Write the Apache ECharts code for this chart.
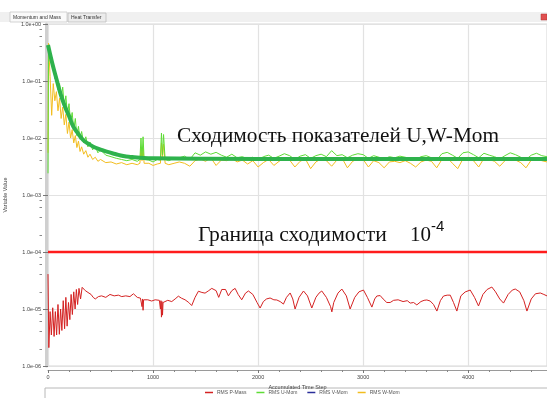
<!DOCTYPE html>
<html><head><meta charset="utf-8">
<script src="https://cdn.jsdelivr.net/npm/echarts@6/dist/echarts.min.js"></script>
<style>html,body{margin:0;padding:0;background:#fff}#c{width:547px;height:398px}</style>
</head><body><div id="c"></div>
<script>
// ---- data ----
const xTicks = [0, 1000, 2000, 3000, 4000];
const yMajor = [1e-6, 1e-5, 1e-4, 1e-3, 1e-2, 1e-1, 1];
const yMinor = [2e-6,4e-6,6e-6,8e-6,2e-5,4e-5,6e-5,8e-5,2e-4,4e-4,6e-4,8e-4,2e-3,4e-3,6e-3,8e-3,2e-2,4e-2,6e-2,8e-2,0.2,0.4,0.6,0.8];
const threshold = 1e-4;
const thresholdSteps = [0, 4750];
const seriesNames = ['RMS P-Mass', 'RMS U-Mom', 'RMS V-Mom', 'RMS W-Mom'];

const rmsP = [[0,4.1e-5],[8,2.1e-6],[20,9e-6],[32,3.5e-6],[45,1.05e-5],[58,3.3e-6],[70,9e-6],[82,3.5e-6],[95,1.2e-5],[108,3.6e-6],[120,1.0e-5],[132,4.2e-6],[145,1.4e-5],[158,4.5e-6],[170,1.6e-5],[182,5e-6],[195,1.3e-5],[208,6.5e-6],[220,1.8e-5],[232,8e-6],[245,2.0e-5],[258,1.0e-5],[270,2.2e-5],[282,1.2e-5],[295,2.3e-5],[310,1.5e-5],[325,2.4e-5],[340,2.5e-5],[355,2.1e-5],[370,2.2e-5],[390,1.9e-5],[410,1.8e-5],[430,1.6e-5],[450,1.5e-5],[480,1.65e-5],[510,1.7e-5],[550,1.6e-5],[590,1.8e-5],[630,1.7e-5],[670,1.75e-5],[702,1.65e-5],[740,1.7e-5],[780,1.65e-5],[813,1.85e-5],[850,1.6e-5],[880,1.55e-5],[895,1.1e-5],[900,1.5e-5],[905,9.5e-6],[910,1.45e-5],[924,1.5e-5],[950,1.45e-5],[987,1.38e-5],[1020,1.45e-5],[1060,1.42e-5],[1070,1.0e-5],[1075,1.4e-5],[1080,7.2e-6],[1085,1.35e-5],[1090,7.8e-6],[1095,1.3e-5],[1110,1.38e-5],[1140,1.42e-5],[1178,1.35e-5],[1210,1.5e-5],[1241,1.68e-5],[1270,1.55e-5],[1305,1.45e-5],[1340,1.3e-5],[1368,1.15e-5],[1400,1.6e-5],[1432,2.05e-5],[1465,1.95e-5],[1495,1.9e-5],[1530,2.1e-5],[1559,2.3e-5],[1600,2.1e-5],[1625,1.6e-5],[1654,2.2e-5],[1690,2.2e-5],[1717,1.7e-5],[1750,2.1e-5],[1781,2.3e-5],[1810,1.8e-5],[1844,1.45e-5],[1880,1.9e-5],[1908,2.07e-5],[1950,1.8e-5],[1990,1.3e-5],[2019,1.04e-5],[2050,1.35e-5],[2080,1.5e-5],[2114,1.56e-5],[2150,1.45e-5],[2178,1.44e-5],[2210,1.35e-5],[2241,1.22e-5],[2270,1.6e-5],[2305,1.91e-5],[2330,1.5e-5],[2352,1.0e-5],[2390,1.6e-5],[2432,2.07e-5],[2470,1.7e-5],[2511,1.04e-5],[2550,1.6e-5],[2580,1.9e-5],[2606,2.07e-5],[2650,1.6e-5],[2690,1.1e-5],[2702,8.9e-6],[2720,1.3e-5],[2760,1.9e-5],[2797,2.24e-5],[2840,1.7e-5],[2876,1.0e-5],[2920,1.6e-5],[2960,2.0e-5],[3003,2.15e-5],[3040,1.6e-5],[3083,1.08e-5],[3110,1.5e-5],[3130,1.69e-5],[3162,1.72e-5],[3190,1.5e-5],[3225,1.3e-5],[3257,1.3e-5],[3290,1.42e-5],[3333,1.45e-5],[3380,1.35e-5],[3420,1.4e-5],[3448,1.27e-5],[3480,1.3e-5],[3511,1.18e-5],[3550,1.35e-5],[3580,1.42e-5],[3606,1.44e-5],[3638,1.38e-5],[3670,1.2e-5],[3702,9.2e-6],[3735,1.4e-5],[3765,1.69e-5],[3800,1.75e-5],[3829,1.75e-5],[3860,1.3e-5],[3892,9.2e-6],[3930,1.7e-5],[3971,1.99e-5],[4019,2.15e-5],[4060,1.6e-5],[4098,1.13e-5],[4140,1.8e-5],[4180,2.2e-5],[4225,2.43e-5],[4260,2.0e-5],[4300,1.5e-5],[4336,1.27e-5],[4380,1.8e-5],[4420,2.15e-5],[4448,2.24e-5],[4490,2.0e-5],[4530,1.4e-5],[4559,9.2e-6],[4600,1.5e-5],[4640,1.85e-5],[4686,1.91e-5],[4720,1.8e-5],[4752,1.69e-5]];

const rmsU = [[0,0.0024],[5,0.42],[20,0.30],[35,0.22],[50,0.19],[65,0.11],[80,0.13],[95,0.07],[110,0.09],[125,0.05],[140,0.078],[155,0.035],[170,0.055],[185,0.026],[200,0.040],[215,0.019],[230,0.028],[245,0.014],[260,0.022],[275,0.011],[290,0.016],[305,0.0095],[320,0.013],[340,0.0082],[360,0.0105],[380,0.0070],[400,0.0085],[425,0.0062],[450,0.0072],[475,0.0055],[500,0.0062],[550,0.0050],[600,0.0047],[650,0.0044],[700,0.0042],[750,0.0040],[800,0.0042],[850,0.0039],[875,0.0042],[885,0.0100],[895,0.0045],[905,0.0105],[915,0.0042],[930,0.0039],[960,0.0041],[1000,0.0038],[1040,0.0042],[1070,0.0041],[1080,0.0122],[1090,0.0050],[1100,0.0115],[1115,0.0042],[1150,0.0040],[1200,0.0044],
[1250,0.0045],[1300,0.0048],[1350,0.0042],[1400,0.0055],[1450,0.0050],[1500,0.0057],[1550,0.0052],[1600,0.0056],[1650,0.0050],[1700,0.0046],[1750,0.0052],[1800,0.0045],[1850,0.0047],[1900,0.0043],[1950,0.0046],[2000,0.0041],[2050,0.0047],[2100,0.0050],[2150,0.0044],[2200,0.0048],[2250,0.0053],[2300,0.0049],[2350,0.0042],[2400,0.0048],[2450,0.0051],[2500,0.0044],[2550,0.0049],[2600,0.0052],[2650,0.0047],[2700,0.0060],[2750,0.0049],[2800,0.0051],[2850,0.0045],[2900,0.0050],[2950,0.0053],[3000,0.0051],[3050,0.0044],[3100,0.0049],[3150,0.0046],[3200,0.0043],[3250,0.0047],[3300,0.0045],[3350,0.0048],[3400,0.0046],[3450,0.0044],[3500,0.0042],[3550,0.0047],[3600,0.0049],[3650,0.0045],[3700,0.0041],[3750,0.0053],[3800,0.0056],[3850,0.0050],[3900,0.0044],[3950,0.0055],[4000,0.0057],[4050,0.0051],[4100,0.0045],[4150,0.0054],[4200,0.0050],[4250,0.0047],[4300,0.0043],[4350,0.0049],[4400,0.0055],[4450,0.0051],[4500,0.0046],[4550,0.0042],[4600,0.0050],[4650,0.0054],[4700,0.0049],[4750,0.0047]];

const rmsV = [];

const rmsW = [[0,0.0055],[5,0.46],[20,0.12],[35,0.025],[50,0.09],[65,0.045],[80,0.065],[95,0.03],[110,0.05],[125,0.022],[140,0.035],[155,0.017],[170,0.026],[185,0.012],[200,0.019],[215,0.010],[230,0.014],[245,0.0082],[260,0.011],[275,0.0068],[290,0.0088],[305,0.0058],[320,0.0070],[340,0.0052],[360,0.0060],[380,0.0046],[400,0.0052],[425,0.0042],[450,0.0046],[475,0.0039],[500,0.0042],[550,0.0037],[600,0.0038],[650,0.0035],[700,0.0037],[750,0.0034],[800,0.0036],[850,0.0034],[875,0.0036],[885,0.0068],[895,0.0040],[905,0.0066],[915,0.0036],[930,0.0034],[960,0.0036],[1000,0.0033],[1040,0.0035],[1070,0.0036],[1080,0.0082],[1090,0.0045],[1100,0.0078],[1115,0.0036],[1150,0.0034],[1200,0.0036],
[1250,0.0038],[1300,0.0036],[1350,0.0032],[1400,0.0040],[1450,0.0043],[1500,0.0039],[1550,0.0045],[1600,0.0033],[1650,0.0041],[1700,0.0040],[1750,0.0044],[1800,0.0038],[1850,0.0041],[1900,0.0035],[1950,0.0040],[2000,0.0031],[2050,0.0037],[2100,0.0042],[2150,0.0033],[2200,0.0039],[2250,0.0044],[2300,0.0041],[2350,0.0031],[2400,0.0039],[2450,0.0043],[2500,0.0029],[2550,0.0038],[2600,0.0043],[2650,0.0040],[2700,0.0032],[2750,0.0041],[2800,0.0044],[2850,0.0030],[2900,0.0039],[2950,0.0043],[3000,0.0042],[3050,0.0031],[3100,0.0040],[3150,0.0037],[3200,0.0030],[3250,0.0038],[3300,0.0039],[3350,0.0037],[3400,0.0040],[3450,0.0036],[3500,0.0031],[3550,0.0038],[3600,0.0041],[3650,0.0039],[3700,0.0030],[3750,0.0042],[3800,0.0045],[3850,0.0036],[3900,0.0029],[3950,0.0043],[4000,0.0046],[4050,0.0040],[4100,0.0031],[4150,0.0044],[4200,0.0042],[4250,0.0039],[4300,0.0032],[4350,0.0040],[4400,0.0045],[4450,0.0041],[4500,0.0037],[4550,0.0030],[4600,0.0041],[4650,0.0044],[4700,0.0040],[4750,0.0038]];

const trendSteps = [0, 40, 83, 120, 162, 200, 241, 290, 336, 380, 432, 500, 559, 640, 717, 800, 876, 1000, 1500, 2500, 3500, 4750];
const trendValues = [0.428, 0.207, 0.104, 0.059, 0.0354, 0.0243, 0.0158, 0.0117, 0.0092, 0.0080, 0.00704, 0.00628, 0.00575, 0.00524, 0.00483, 0.00464, 0.00451, 0.00440, 0.00432, 0.0043, 0.0043, 0.0043];

const annotation1 = 'Сходимость показателей U,W-Mom';
const annotation2 = 'Граница сходимости';
const tabs = ['Momentum and Mass', 'Heat Transfer'];

// ---- chart ----
function fmtExp(v) {
  const e = Math.round(Math.log10(v));
  const a = Math.abs(e);
  return '1.0e' + (e < 0 ? '-' : '+') + (a < 10 ? '0' : '') + a;
}
const small = { fontFamily: 'Liberation Sans', fontSize: 5.5, color: '#444' };
const chart = echarts.init(document.getElementById('c'), null, { renderer: 'canvas' });
const logBase = { type: 'log', logBase: 10, min: 1e-6, max: 1, gridIndex: 0, position: 'left' };

chart.setOption({
  backgroundColor: '#fff',
  animation: false,
  grid: { left: 48, right: 0, top: 24, bottom: 32, show: true, borderColor: '#d6d6d6', borderWidth: 1, containLabel: false, outerBoundsMode: 'none' },
  legend: {
    data: seriesNames, left: 205, top: 390, padding: 0, itemGap: 10, itemWidth: 8, itemHeight: 1.5, icon: 'rect',
    textStyle: { fontFamily: 'Liberation Sans', fontSize: 5, color: '#555', padding: [0, 0, 0, -1] }
  },
  xAxis: {
    type: 'value', min: 0, max: 4750, interval: 1000, offset: 4,
    name: 'Accumulated Time Step', nameLocation: 'middle', nameGap: 13,
    nameTextStyle: small,
    axisLine: { show: true, lineStyle: { color: '#9a9a9a', width: 1 } },
    axisTick: { show: true, length: 3, inside: false, lineStyle: { color: '#777' } },
    minorTick: { show: true, splitNumber: 5, length: 2, lineStyle: { color: '#888' } },
    axisLabel: Object.assign({ margin: 4, showMaxLabel: false, formatter: v => String(v) }, small),
    splitLine: { show: true, lineStyle: { color: '#e2e2e2', width: 1.2 } }
  },
  yAxis: [
    Object.assign({}, logBase, {
      offset: 6,
      name: 'Variable Value', nameLocation: 'middle', nameGap: 34, nameRotate: 90, nameTextStyle: small,
      axisLine: { show: false },
      axisTick: { show: true, length: 5, lineStyle: { color: '#777' } },
      axisLabel: Object.assign({ margin: 1, formatter: fmtExp }, small),
      splitLine: { show: true, lineStyle: { color: '#e2e2e2', width: 1.2 } }
    }),
    Object.assign({}, logBase, {
      offset: 6,
      axisLine: { show: false },
      axisTick: { show: true, length: 2.5, customValues: yMinor, lineStyle: { color: '#888' } },
      axisLabel: { show: false },
      splitLine: { show: false }
    }),
    Object.assign({}, logBase, {
      offset: 2,
      axisLine: { show: true, lineStyle: { color: '#cfcfcf', width: 3 } },
      axisTick: { show: false }, axisLabel: { show: false }, splitLine: { show: false }
    })
  ],
  series: [
    {
      name: 'threshold', type: 'line', data: thresholdSteps.map(s => [s, threshold]), symbol: 'none', z: 7,
      color: '#ff1c1c', lineStyle: { width: 2.5, color: '#ff1c1c' }
    },
    {
      name: seriesNames[0], type: 'line', data: rmsP, symbol: 'none', z: 5,
      color: '#d42222', lineStyle: { width: 1, color: '#d42222' }
    },
    { name: seriesNames[3], type: 'line', data: rmsW, symbol: 'none', z: 3, color: '#f2bd1f', lineStyle: { width: 1, color: '#f2bd1f' } },
    { name: seriesNames[1], type: 'line', data: rmsU, symbol: 'none', z: 4, color: '#5edc36', lineStyle: { width: 1, color: '#5edc36' } },
    { name: seriesNames[2], type: 'line', data: rmsV, symbol: 'none', z: 4, color: '#2b2f9a', lineStyle: { width: 1, color: '#2b2f9a' } },
    {
      name: 'trend', type: 'line', data: trendSteps.map((s, i) => [s, trendValues[i]]), symbol: 'none', smooth: true, z: 6,
      color: '#2eb24c', lineStyle: { width: 4, color: '#2eb24c' }
    }
  ],
  graphic: [
    { type: 'rect', shape: { x: 0, y: 12, width: 547, height: 10 }, style: { fill: '#f0f0f0' }, silent: true, z: 0 },
    { type: 'rect', shape: { x: 10, y: 12, width: 57, height: 10 }, style: { fill: '#fafafa', stroke: '#c8c8c8', lineWidth: 0.8 }, silent: true },
    { type: 'rect', shape: { x: 68, y: 13, width: 38, height: 9 }, style: { fill: '#ececec', stroke: '#bdbdbd', lineWidth: 0.8 }, silent: true },
    { type: 'text', style: { text: tabs[0], x: 13, y: 17.5, font: '5px "Liberation Sans"', fill: '#333', verticalAlign: 'middle' }, silent: true },
    { type: 'text', style: { text: tabs[1], x: 71, y: 17.5, font: '5px "Liberation Sans"', fill: '#333', verticalAlign: 'middle' }, silent: true },
    { type: 'rect', shape: { x: 541, y: 14, width: 6, height: 6 }, style: { fill: '#e05050', stroke: '#b03030', lineWidth: 0.5 }, silent: true },
    { type: 'rect', shape: { x: 45, y: 388, width: 510, height: 20 }, style: { fill: 'none', stroke: '#b8b8b8', lineWidth: 1 }, silent: true },
    { type: 'text', z: 100, style: { text: annotation1, x: 177, y: 136, font: '21.3px "Liberation Serif"', fill: '#111', verticalAlign: 'middle' }, silent: true },
    { type: 'text', z: 100, style: { text: annotation2, x: 198, y: 235, font: '21.6px "Liberation Serif"', fill: '#111', verticalAlign: 'middle' }, silent: true },
    { type: 'text', z: 100, style: { text: '10', x: 410, y: 235, font: '21px "Liberation Serif"', fill: '#111', verticalAlign: 'middle' }, silent: true },
    { type: 'text', z: 100, style: { text: '-4', x: 431, y: 227, font: '15px "Liberation Sans"', fill: '#111', verticalAlign: 'middle' }, silent: true }
  ]
});
</script>
</body></html>
